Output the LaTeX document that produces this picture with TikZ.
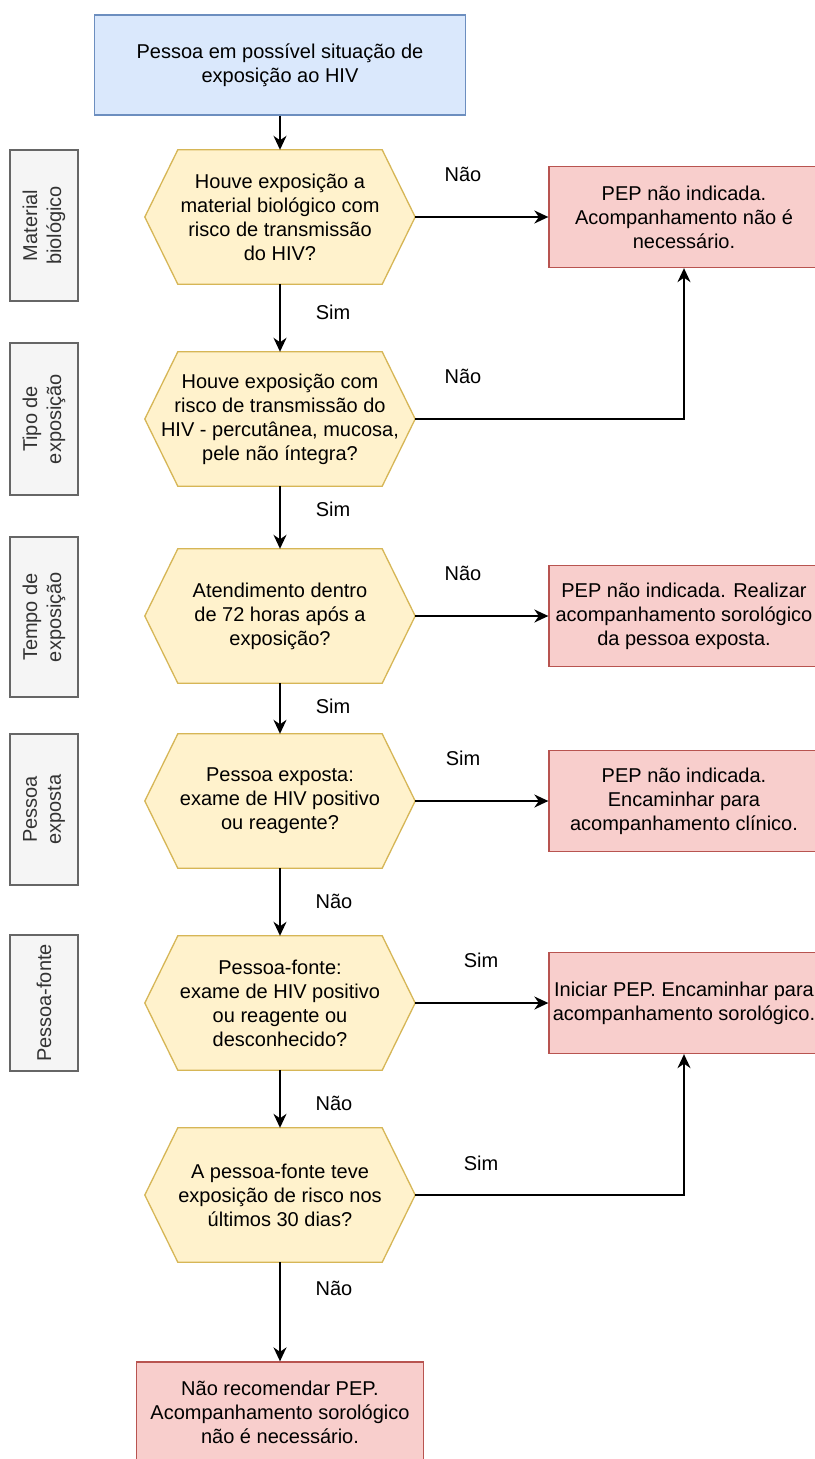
\documentclass[tikz,border=0pt]{standalone}
\usepackage{fontspec}
\setmainfont{Liberation Sans}
\usetikzlibrary{arrows.meta,backgrounds}
\definecolor{bluefill}{HTML}{DAE8FC}
\definecolor{bluedraw}{HTML}{6C8EBF}
\definecolor{yelfill}{HTML}{FFF2CC}
\definecolor{yeldraw}{HTML}{D6B656}
\definecolor{redfill}{HTML}{F8CECC}
\definecolor{reddraw}{HTML}{B85450}
\definecolor{grayfill}{HTML}{F5F5F5}
\definecolor{graydraw}{HTML}{666666}
\definecolor{graytext}{HTML}{333333}
\begin{document}
\begin{tikzpicture}[x=1pt,y=-1pt,
  every node/.style={font=\fontsize{20}{24}\selectfont, align=center, inner sep=0pt},
  startbox/.style={draw=bluedraw, fill=bluefill, line width=1.3pt, minimum width=371pt, minimum height=100pt},
  hexnode/.style={minimum width=270pt, minimum height=134pt},
  hexshape/.style={draw=yeldraw, fill=yelfill, line width=1.3pt},
  endbox/.style={draw=reddraw, fill=redfill, line width=1.3pt, minimum width=270pt, minimum height=101pt},
  sidebox/.style={draw=graydraw, fill=grayfill, text=graytext, line width=1.3pt, rotate=90, minimum height=68pt},
  arr/.style={line width=1.8pt, -{Stealth[length=14pt,width=13pt,inset=4.5pt]}},
  lbl/.style={}
]
\useasboundingbox (0,0) rectangle (814,1459);

% main column
\node[startbox] (top) at (280,65) {Pessoa em possível situação de\\exposição ao HIV};
\node[hexnode] (h1) at (280,217) {Houve exposição a\\material biológico com\\risco de transmissão\\do HIV?};
\node[hexnode] (h2) at (280,419) {Houve exposição com\\ risco de transmissão do\\HIV - percutânea, mucosa,\\pele não íntegra?};
\node[hexnode] (h3) at (280,616) {Atendimento dentro\\de 72 horas após a\\exposição?};
\node[hexnode] (h4) at (280,801) {Pessoa exposta:\\exame de HIV positivo\\ou reagente?};
\node[hexnode] (h5) at (280,1003) {Pessoa-fonte:\\exame de HIV positivo\\ou reagente ou\\desconhecido?};
\node[hexnode] (h6) at (280,1195) {A pessoa-fonte teve\\exposição de risco nos\\últimos 30 dias?};
\node[endbox, minimum width=287pt, minimum height=100pt] (fim) at (280,1412) {Não recomendar PEP.\\Acompanhamento sorológico\\não é necessário.};

% outcome boxes
\node[endbox] (r1) at (684,217) {PEP não indicada.\\Acompanhamento não é\\necessário.};
\node[endbox] (r2) at (684,616) {PEP não indicada. Realizar\\acompanhamento sorológico\\da pessoa exposta.};
\node[endbox] (r3) at (684,801) {PEP não indicada.\\Encaminhar para\\acompanhamento clínico.};
\node[endbox] (r4) at (684,1003) {Iniciar PEP. Encaminhar para\\acompanhamento sorológico.};

% side labels
\node[sidebox, minimum width=151pt] (s1) at (44,225.5) {Material\\biológico};
\node[sidebox, minimum width=152pt] (s2) at (44,419) {Tipo de\\exposição};
\node[sidebox, minimum width=160pt] (s3) at (44,617) {Tempo de\\exposição};
\node[sidebox, minimum width=151pt] (s4) at (44,809.5) {Pessoa\\exposta};
\node[sidebox, minimum width=136pt] (s5) at (44,1003) {Pessoa-fonte};

% edge labels
\node[lbl] (l1) at (463,174) {Não};
\node[lbl] (l2) at (333,312) {Sim};
\node[lbl] (l3) at (463,376) {Não};
\node[lbl] (l4) at (333,509) {Sim};
\node[lbl] (l5) at (463,573) {Não};
\node[lbl] (l6) at (333,706) {Sim};
\node[lbl] (l7) at (463,758) {Sim};
\node[lbl] (l8) at (334,901) {Não};
\node[lbl] (l9) at (481,960) {Sim};
\node[lbl] (l10) at (334,1103) {Não};
\node[lbl] (l11) at (481,1163) {Sim};
\node[lbl] (l12) at (334,1288) {Não};

% connectors
\draw[arr] (top.south) -- (h1.north);
\draw[arr] (h1.south) -- (h2.north);
\draw[arr] (h2.south) -- (h3.north);
\draw[arr] (h3.south) -- (h4.north);
\draw[arr] (h4.south) -- (h5.north);
\draw[arr] (h5.south) -- (h6.north);
\draw[arr] (h6.south) -- (fim.north);
\draw[arr] (h1.east) -- (r1.west);
\draw[arr] (h2.east) -| (r1.south);
\draw[arr] (h3.east) -- (r2.west);
\draw[arr] (h4.east) -- (r3.west);
\draw[arr] (h5.east) -- (r4.west);
\draw[arr] (h6.east) -| (r4.south);

\begin{scope}[on background layer]
  \fill[white] (0,0) rectangle (814,1459);
  \foreach \h in {h1,h2,h3,h4,h5,h6}
    \draw[hexshape] (\h.west) -- ([xshift=33pt]\h.north west) -- ([xshift=-33pt]\h.north east)
      -- (\h.east) -- ([xshift=-33pt]\h.south east) -- ([xshift=33pt]\h.south west) -- cycle;
\end{scope}
\end{tikzpicture}
\end{document}
